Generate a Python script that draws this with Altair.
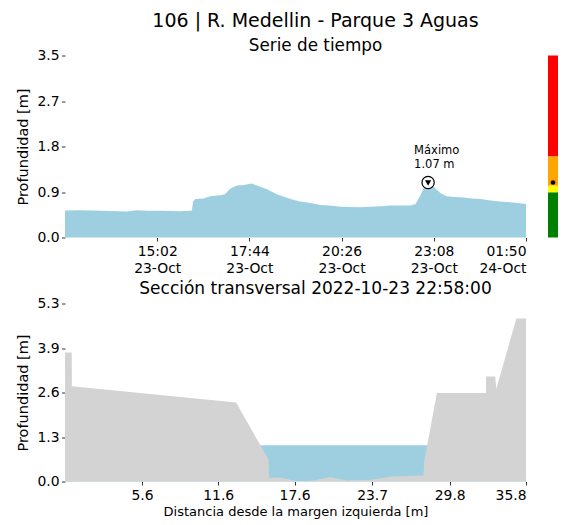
import altair as alt
import pandas as pd

# ---------------- text ----------------
TITLE = "106 | R. Medellin - Parque 3 Aguas"
SUB_TS = "Serie de tiempo"
SUB_XS = "Sección transversal 2022-10-23 22:58:00"
Y_TITLE = "Profundidad [m]"
X_TITLE_XS = "Distancia desde la margen izquierda [m]"

# ---------------- time series (depth, m) ----------------
ts_time = [
    "2022-10-23 12:20", "2022-10-23 12:45", "2022-10-23 13:10", "2022-10-23 13:40",
    "2022-10-23 14:08", "2022-10-23 14:26", "2022-10-23 14:45", "2022-10-23 15:07",
    "2022-10-23 15:25", "2022-10-23 15:42", "2022-10-23 16:00", "2022-10-23 16:03",
    "2022-10-23 16:05", "2022-10-23 16:09", "2022-10-23 16:23", "2022-10-23 16:35",
    "2022-10-23 16:53", "2022-10-23 17:01", "2022-10-23 17:10", "2022-10-23 17:22",
    "2022-10-23 17:34", "2022-10-23 17:48", "2022-10-23 17:57", "2022-10-23 18:15",
    "2022-10-23 18:32", "2022-10-23 18:56", "2022-10-23 19:13", "2022-10-23 19:31",
    "2022-10-23 19:49", "2022-10-23 20:05", "2022-10-23 20:24", "2022-10-23 20:40",
    "2022-10-23 20:59", "2022-10-23 21:17", "2022-10-23 21:35", "2022-10-23 21:52",
    "2022-10-23 22:10", "2022-10-23 22:27", "2022-10-23 22:36", "2022-10-23 22:45",
    "2022-10-23 22:50", "2022-10-23 22:54", "2022-10-23 22:58", "2022-10-23 23:02",
    "2022-10-23 23:08", "2022-10-23 23:20", "2022-10-23 23:31", "2022-10-23 23:45",
    "2022-10-24 00:01", "2022-10-24 00:15", "2022-10-24 00:30", "2022-10-24 00:48",
    "2022-10-24 01:03", "2022-10-24 01:17", "2022-10-24 01:35", "2022-10-24 01:50",
]
ts_depth = [
    0.525, 0.53, 0.525, 0.515,
    0.505, 0.53, 0.52, 0.52,
    0.515, 0.51, 0.52, 0.525,
    0.70, 0.75, 0.76, 0.80,
    0.82, 0.84, 0.95, 1.01,
    1.02, 1.05, 1.01, 0.94,
    0.84, 0.75, 0.70, 0.67,
    0.63, 0.62, 0.60, 0.595,
    0.59, 0.60, 0.61, 0.62,
    0.62, 0.62, 0.65, 0.83,
    0.96, 1.00, 1.07, 1.00,
    0.98, 0.86, 0.80, 0.79,
    0.78, 0.76, 0.75, 0.72,
    0.70, 0.69, 0.67, 0.65,
]
ts_yticks = [0.0, 0.885, 1.77, 2.655, 3.54]
ts_xticks = ["2022-10-23 15:02", "2022-10-23 17:44", "2022-10-23 20:26",
             "2022-10-23 23:08", "2022-10-24 01:50"]
ts_start, ts_end = "2022-10-23 12:20", "2022-10-24 01:50"

max_time = "2022-10-23 22:58"
max_depth = 1.07

# ---------------- alert levels (m) ----------------
lev_low = [0.0, 0.88, 1.01, 1.58]
lev_high = [0.88, 1.01, 1.58, 3.54]
lev_color = ["#008000", "#ffff00", "#ffa500", "#ff0000"]
current_depth = 1.07

# ---------------- cross section ----------------
xs_dist = [-0.45, 0.08, 0.09, 13.0, 15.55, 15.6, 16.6, 17.78, 19.09, 20.40, 21.71,
           23.55, 25.25, 27.74, 27.8, 28.79, 32.65, 32.66, 33.38, 33.46, 35.04, 35.8]
xs_elev = [3.81, 3.81, 2.81, 2.33, 0.65, 0.11, 0.11, 0.0, 0.03, 0.13, 0.03,
           0.05, 0.15, 0.18, 0.60, 2.61, 2.61, 3.10, 3.10, 2.73, 4.81, 4.81]
water_level = 1.07
xs_domain = [-0.45, 35.8]
xs_xticks = [5.6, 11.6, 17.6, 23.7, 29.8, 35.8]
xs_yticks = [0.0, 1.314, 2.628, 3.942, 5.256]

FONT = "DejaVu Sans"
BLUE = "#9ecfe0"
GRAY = "#d3d3d3"


def dt(s):
    t = pd.Timestamp(s)
    return alt.DateTime(year=t.year, month=t.month, date=t.day,
                        hours=t.hour, minutes=t.minute)


ts_df = pd.DataFrame({"time": pd.to_datetime(ts_time), "depth": ts_depth})
max_df = pd.DataFrame({"time": pd.to_datetime([max_time]), "depth": [max_depth],
                       "label": [f"Máximo\n{max_depth:.2f} m"]})
lev_df = pd.DataFrame({"low": lev_low, "high": lev_high, "color": lev_color})
cur_df = pd.DataFrame({"depth": [current_depth]})
xs_df = pd.DataFrame({"dist": xs_dist, "elev": xs_elev})
water_df = pd.DataFrame({"dist": xs_domain, "level": [water_level, water_level]})

x_ts = alt.X("time:T", title=None,
             scale=alt.Scale(domain=[dt(ts_start), dt(ts_end)], nice=False),
             axis=alt.Axis(values=[dt(v) for v in ts_xticks],
                           labelExpr="[timeFormat(datum.value, '%H:%M'), timeFormat(datum.value, '%d-%b')]",
                           labelLineHeight=17, labelPadding=3.5))
y_ts = alt.Y("depth:Q", title=Y_TITLE,
             scale=alt.Scale(domain=[0, ts_yticks[-1]], nice=False, zero=True),
             axis=alt.Axis(values=ts_yticks, format=".1f"))

area_ts = alt.Chart(ts_df).mark_area(color=BLUE, opacity=1).encode(x=x_ts, y=y_ts)
ring = alt.Chart(max_df).mark_point(shape="circle", filled=True, fill="white",
                                    stroke="black", strokeWidth=1.2, size=150,
                                    opacity=1).encode(x="time:T", y="depth:Q")
tri = alt.Chart(max_df).mark_point(shape="triangle-down", filled=True, color="black",
                                   size=38, opacity=1, yOffset=0.5).encode(x="time:T", y="depth:Q")
lbl = alt.Chart(max_df).mark_text(align="left", baseline="bottom", dx=-14, dy=-26,
                                  lineBreak="\n", lineHeight=14, font=FONT,
                                  fontSize=11.5, color="black").encode(
    x="time:T", y="depth:Q", text="label:N")

top = alt.layer(area_ts, ring, tri, lbl).properties(
    width=461, height=182,
    title=alt.TitleParams(TITLE, subtitle=SUB_TS, fontSize=19, subtitleFontSize=16.8,
                          font=FONT, subtitleFont=FONT, fontWeight="normal",
                          color="black", subtitleColor="black", dx=20,
                          anchor="middle", subtitlePadding=7.5, offset=-6.5))

y_lev = alt.Y("low:Q", scale=alt.Scale(domain=[0, ts_yticks[-1]], nice=False), axis=None)
bar = alt.Chart(lev_df).mark_rect().encode(
    y=y_lev, y2="high:Q", color=alt.Color("color:N", scale=None))
dot = alt.Chart(cur_df).mark_point(filled=True, color="black", size=22, opacity=1).encode(
    y=alt.Y("depth:Q", scale=alt.Scale(domain=[0, ts_yticks[-1]], nice=False), axis=None))
levels = alt.layer(bar, dot).properties(width=10, height=182)

row1 = alt.hconcat(top, levels, spacing=22, bounds="flush")

x_xs = alt.X("dist:Q", title=X_TITLE_XS,
             scale=alt.Scale(domain=xs_domain, nice=False, zero=False),
             axis=alt.Axis(values=xs_xticks, format=".1f", titleFontSize=13,
                           labelPadding=3.5, titlePadding=3))
y_xs = alt.Y("elev:Q", title=Y_TITLE,
             scale=alt.Scale(domain=[0, xs_yticks[-1]], nice=False),
             axis=alt.Axis(values=xs_yticks, format=".1f"))
water = alt.Chart(water_df).mark_area(color=BLUE, opacity=1).encode(
    x=alt.X("dist:Q", scale=alt.Scale(domain=xs_domain, nice=False, zero=False)),
    y=alt.Y("level:Q", scale=alt.Scale(domain=[0, xs_yticks[-1]], nice=False)))
terrain = alt.Chart(xs_df).mark_area(color=GRAY, opacity=1).encode(x=x_xs, y=y_xs)
bottom = alt.layer(water, terrain).properties(
    width=461, height=178,
    title=alt.TitleParams(SUB_XS, fontSize=17, font=FONT, fontWeight="normal",
                          color="black", dx=20, anchor="middle", offset=-1.5))

chart = alt.vconcat(row1, bottom, spacing=4).properties(
    padding={"left": 7, "top": 3.5, "right": 0, "bottom": 0}
).configure_view(stroke=None).configure_axis(
    labelFont=FONT, titleFont=FONT, labelFontSize=13.9, titleFontSize=14.5,
    titleFontWeight="normal", labelColor="black", titleColor="black",
    domain=False, grid=False, tickColor="black", tickSize=3.5, tickWidth=0.8,
    labelPadding=2.5, titlePadding=6
)

chart.save("out.html", embed_options={"renderer": "svg", "actions": False})
